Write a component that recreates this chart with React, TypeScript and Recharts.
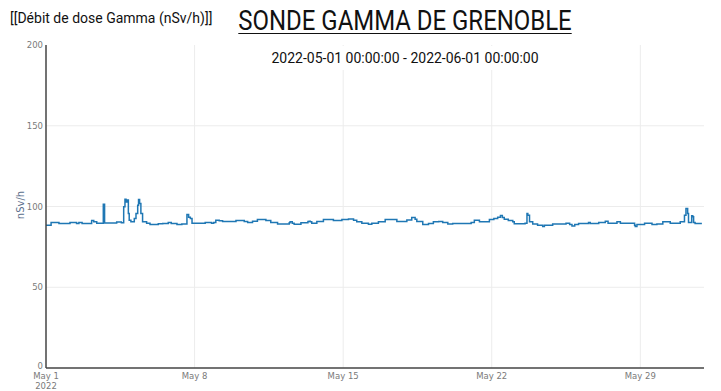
import React from "react";
import { LineChart, Line, XAxis, YAxis, CartesianGrid } from "recharts";

// days elapsed since 2022-05-01 00:00
const dayOffsets: number[] = [
  0, 0.24, 0.61, 1.13, 1.44, 1.55, 1.7, 2.15, 2.25, 2.39, 2.7, 2.76, 3.33, 3.55,
  3.66, 3.72, 3.77, 3.81, 3.88, 3.92, 4.0, 4.16, 4.24, 4.32, 4.36, 4.41, 4.47, 4.55,
  4.74, 4.9, 5.29, 5.5, 5.76, 5.9, 6.17, 6.4, 6.64, 6.72, 6.8, 6.88, 7.5, 7.8, 7.9,
  8.0, 8.16, 8.32, 8.95, 9.34, 9.5, 9.73, 9.96, 10.36, 10.59, 10.91, 11.46, 11.5,
  11.6, 11.69, 12.01, 12.34, 12.4, 12.45, 12.52, 12.76, 13.07, 13.54, 13.94, 14.25,
  14.49, 14.64, 14.88, 15.19, 15.35, 15.66, 15.98, 16.53, 17.0, 17.23, 17.39, 17.47,
  17.75, 18.02, 18.25, 18.5, 18.69, 18.93, 19.16, 20.03, 20.18, 20.42, 20.89, 21.1,
  21.28, 21.41, 21.5, 21.59, 21.78, 21.99, 22.06, 22.57, 22.66, 22.7, 22.78, 22.93,
  23.16, 23.4, 23.48, 23.87, 24.5, 24.67, 24.78, 24.91, 25.09, 25.56, 25.64, 26.04,
  26.35, 26.48, 26.9, 27.06, 27.73, 27.76, 27.84, 28.2, 28.55, 28.78, 29.06, 29.41,
  29.88, 30.08, 30.15, 30.23, 30.27, 30.42, 30.47, 30.51, 30.58, 30.9,
];

// gamma dose rate, nSv/h
const doseRates: number[] = [
  88.4, 90.1, 89.5, 90.1, 89.5, 90.1, 89.5, 91.3, 90.6, 89.7, 101.4, 89.8, 90.4, 90.0,
  99.8, 104.5, 102.8, 104.0, 95.6, 91.5, 90.5, 92.6, 95.6, 100.8, 104.3, 101.8, 95.6, 90.5,
  89.7, 88.8, 89.3, 89.5, 90.1, 89.5, 88.8, 89.2, 95.0, 93.4, 92.5, 89.7, 90.1, 89.7, 90.1,
  91.5, 91.1, 90.7, 91.3, 90.7, 90.1, 90.9, 91.9, 91.3, 90.1, 89.2, 89.9, 90.5,
  89.7, 89.0, 89.9, 90.7, 90.9, 90.5, 89.7, 90.7, 91.9, 91.3, 91.9, 92.3,
  91.5, 90.5, 89.7, 89.0, 89.7, 90.5, 91.9, 90.7, 91.7, 93.2, 92.1, 90.7,
  88.8, 89.5, 90.5, 90.7, 90.1, 89.2, 89.5, 90.1, 91.5, 90.5, 91.9, 92.5,
  93.4, 94.4, 93.2, 92.1, 91.3, 90.5, 89.3, 89.7, 95.6, 94.6, 90.5, 89.2,
  88.4, 87.6, 88.4, 89.2, 89.7, 88.8, 88.0, 88.8, 89.5, 90.1, 89.5, 90.1,
  90.9, 89.7, 90.5, 89.7, 88.4, 87.6, 88.8, 89.7, 88.8, 89.2, 90.5, 89.7,
  90.5, 94.6, 98.7, 95.6, 90.1, 94.2, 93.6, 90.1, 89.5, 89.5,
];

const xTickDays: number[] = [0, 7, 14, 21, 28];
const xTickLabels: string[] = ["May 1", "May 8", "May 15", "May 22", "May 29"];
const yTicks: number[] = [0, 50, 100, 150, 200];

const data = dayOffsets.map((d, i) => ({ day: d, value: doseRates[i] }));

const tickFont = "'DejaVu Sans', Verdana, sans-serif";

const XTick = (props: any) => {
  const { x, y, payload } = props;
  const idx = xTickDays.indexOf(payload.value);
  return (
    <text x={x} y={y} textAnchor="middle" fill="#7a7a7a" fontSize={8.5} fontFamily={tickFont}>
      <tspan x={x} dy="0.75em">{xTickLabels[idx]}</tspan>
      {payload.value === 0 && (
        <tspan x={x} dy="1.1em">2022</tspan>
      )}
    </text>
  );
};

const YTick = (props: any) => {
  const { x, y, payload } = props;
  const shift = payload.value === 0 ? -2 : 0;
  return (
    <text
      x={x}
      y={y + shift}
      textAnchor="end"
      dominantBaseline="central"
      fill="#7a7a7a"
      fontSize={8.5}
      fontFamily={tickFont}
    >
      {payload.value}
    </text>
  );
};

export default function App() {
  return (
    <div style={{ position: "absolute", left: 0, top: 0, width: 721, height: 391, background: "#fff", overflow: "hidden" }}>
      <LineChart width={721} height={391} data={data} margin={{ top: 45, right: 17, bottom: 0, left: 0 }}>
        <CartesianGrid stroke="#ececec" horizontalValues={[50, 100, 150]} verticalValues={[7, 14, 21, 28]} />
        <XAxis
          dataKey="day"
          type="number"
          domain={[0, 31]}
          ticks={xTickDays}
          tick={<XTick />}
          tickLine={false}
          tickSize={0}
          tickMargin={5}
          height={23}
          axisLine={{ stroke: "#444", strokeWidth: 1.5 }}
          interval={0}
          allowDataOverflow
        />
        <YAxis
          type="number"
          domain={[0, 200]}
          ticks={yTicks}
          width={46}
          tickLine={false}
          tickSize={0}
          tickMargin={3}
          axisLine={{ stroke: "#444", strokeWidth: 1.5 }}
          tick={<YTick />}
          interval={0}
        />
        <Line
          type="stepAfter"
          dataKey="value"
          stroke="#1f77b4"
          strokeWidth={1.5}
          dot={false}
          isAnimationActive={false}
        />
      </LineChart>
      <div
        style={{
          position: "absolute",
          left: 20,
          top: 205,
          transform: "translate(-50%, -50%) rotate(-90deg)",
          fontFamily: tickFont,
          fontSize: 10,
          color: "#5a6e8c",
          whiteSpace: "nowrap",
        }}
      >
        nSv/h
      </div>
      <div
        style={{
          position: "absolute",
          left: 10,
          top: 10,
          fontFamily: "Roboto, sans-serif",
          fontSize: 14,
          color: "#111",
          whiteSpace: "nowrap",
        }}
      >
        [[Débit de dose Gamma (nSv/h)]]
      </div>
      <div
        style={{
          position: "absolute",
          left: 405,
          top: 4,
          fontFamily: "Roboto, sans-serif",
          fontSize: 28,
          color: "#111",
          whiteSpace: "nowrap",
          textDecoration: "underline",
          textDecorationThickness: 1,
          textUnderlineOffset: 3,
          transform: "translateX(-50%) scaleX(0.855)",
        }}
      >
        SONDE GAMMA DE GRENOBLE
      </div>
      <div
        style={{
          position: "absolute",
          left: 266,
          top: 46,
          width: 278,
          height: 24,
          background: "#fff",
          fontFamily: "Roboto, sans-serif",
          fontSize: 14,
          color: "#111",
          whiteSpace: "nowrap",
          display: "flex",
          alignItems: "center",
          justifyContent: "center",
        }}
      >
        2022-05-01 00:00:00 - 2022-06-01 00:00:00
      </div>
    </div>
  );
}
